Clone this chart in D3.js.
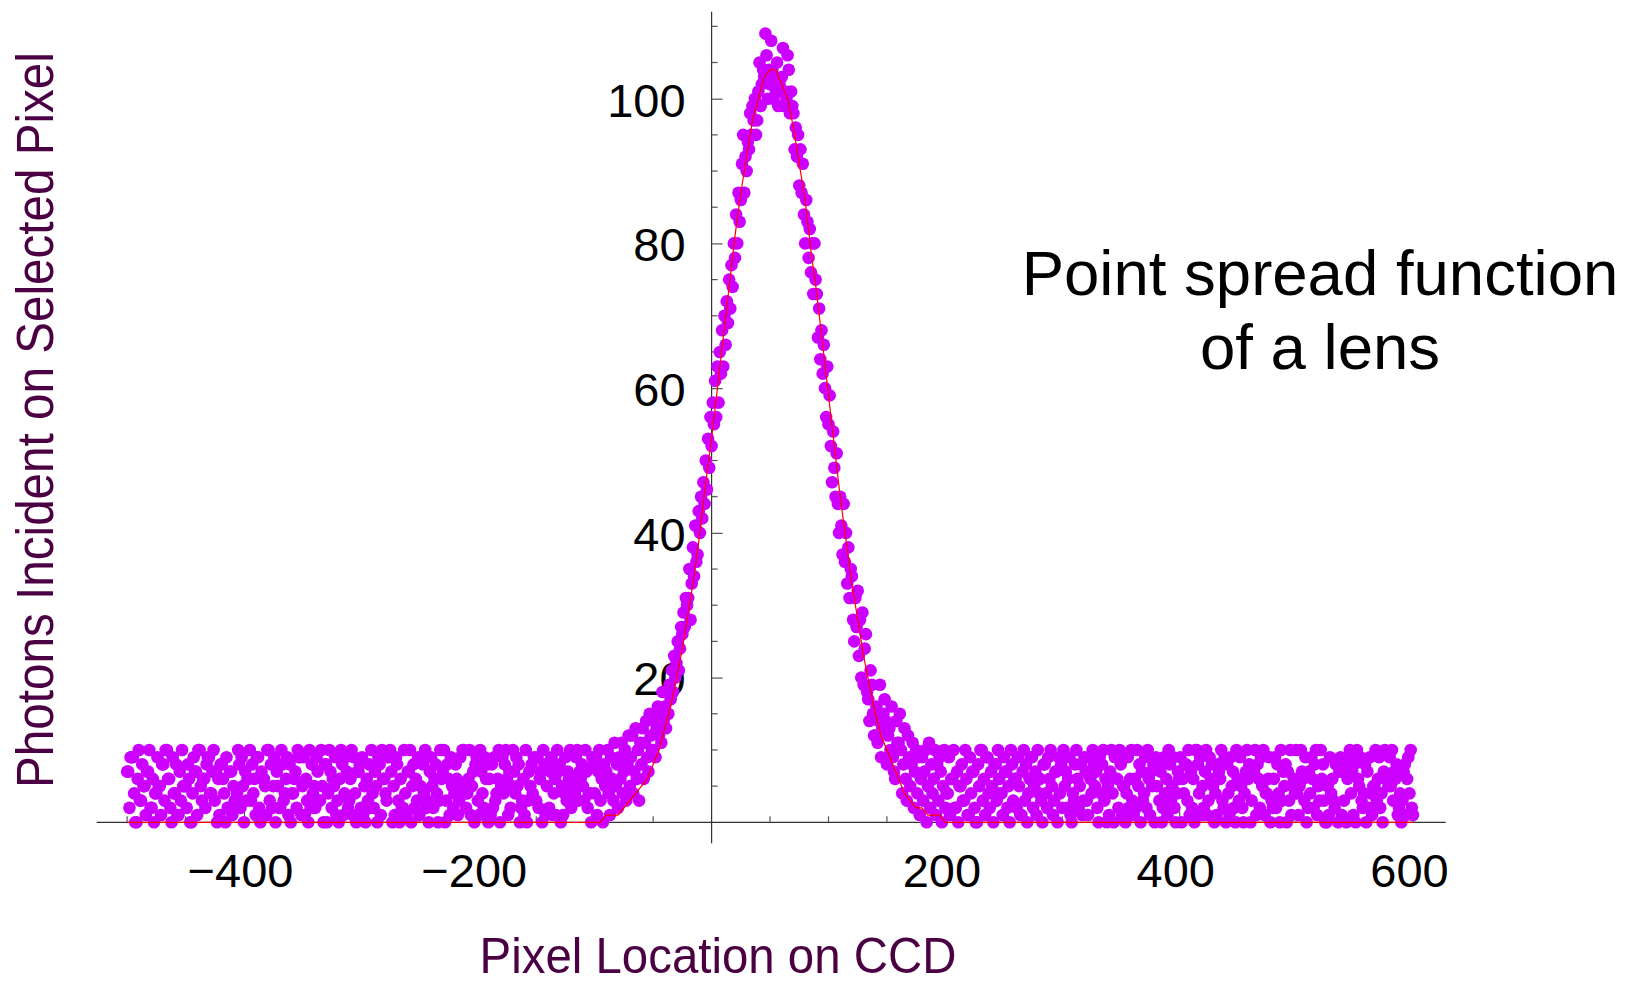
<!DOCTYPE html>
<html>
<head>
<meta charset="utf-8">
<script src="https://cdnjs.cloudflare.com/ajax/libs/d3/7.8.5/d3.min.js"></script>
<style>
  body { margin: 0; background: #fff; }
  text { font-family: "Liberation Sans", Arial, sans-serif; }
</style>
</head>
<body>
<svg id="chart" width="1631" height="985"></svg>
<script>
// photon counts, one per pixel, pixel -500 .. 600
var xStart = -500;

// pixel -500 .. -101
var leftTail = [
  7, 7, 2, 9, 9, 9, 4, 0, 0, 6, 10, 3, 3, 8, 5, 5, 1, 7, 7, 10,
  2, 2, 6, 0, 4, 4, 9, 5, 5, 1, 8, 8, 3, 10, 10, 6, 6, 2, 0, 9,
  4, 4, 8, 1, 1, 7, 3, 10, 5, 5, 5, 2, 8, 6, 0, 0, 4, 9, 7, 7,
  1, 10, 10, 5, 3, 6, 6, 2, 8, 9, 9, 4, 4, 7, 10, 3, 7, 0, 6, 1,
  8, 8, 6, 4, 0, 9, 2, 2, 7, 7, 1, 5, 3, 3, 4, 10, 8, 2, 9, 5,
  0, 7, 3, 6, 6, 10, 3, 8, 4, 6, 1, 9, 9, 2, 0, 7, 6, 6, 5, 1,
  10, 10, 3, 8, 2, 5, 9, 0, 7, 5, 2, 2, 10, 8, 3, 4, 6, 9, 1, 8,
  0, 4, 4, 6, 7, 2, 10, 9, 9, 1, 5, 9, 1, 6, 3, 0, 10, 2, 8, 4,
  5, 2, 9, 7, 3, 3, 10, 5, 0, 8, 8, 0, 4, 10, 7, 2, 6, 5, 9, 1,
  3, 0, 6, 10, 8, 1, 4, 9, 7, 2, 3, 6, 10, 1, 9, 4, 0, 7, 7, 8,
  2, 9, 1, 5, 0, 6, 3, 8, 2, 10, 4, 2, 7, 5, 0, 9, 8, 1, 10, 6,
  6, 4, 3, 9, 9, 10, 7, 0, 5, 1, 9, 8, 3, 0, 6, 2, 2, 10, 4, 1,
  7, 7, 10, 0, 5, 8, 2, 6, 3, 9, 1, 5, 9, 8, 4, 10, 2, 3, 0, 7,
  9, 5, 2, 6, 8, 4, 0, 3, 10, 6, 7, 10, 0, 3, 8, 6, 1, 9, 5, 2,
  4, 8, 6, 1, 3, 9, 5, 10, 10, 4, 2, 4, 6, 10, 1, 5, 7, 0, 8, 9,
  3, 1, 10, 7, 4, 2, 9, 6, 8, 0, 6, 1, 8, 2, 9, 3, 4, 6, 10, 0,
  5, 9, 4, 8, 10, 6, 1, 7, 2, 5, 10, 7, 4, 9, 5, 8, 0, 2, 3, 6,
  1, 10, 0, 3, 7, 5, 8, 4, 9, 3, 3, 9, 2, 6, 7, 0, 10, 8, 1, 5,
  8, 2, 7, 9, 1, 4, 6, 1, 10, 7, 8, 0, 5, 1, 4, 9, 3, 7, 6, 10,
  2, 6, 5, 4, 9, 10, 3, 7, 6, 8, 5, 3, 10, 7, 2, 4, 4, 0, 9, 8
];

// pixel -100 .. 200
var peak = [
  4, 9, 1, 7, 10, 3, 6, 0, 8, 5,
  7, 10, 4, 1, 9, 6, 3, 11, 5, 8,
  2, 9, 6, 11, 4, 7, 10, 3, 8, 12,
  5, 9, 12, 4, 7, 13, 6, 10, 3, 11,
  8, 13, 6, 11, 14, 9, 7, 15, 12, 10,
  10, 14, 9, 13, 16, 12, 15, 11, 18, 14,
  16, 13, 18, 15, 19, 17, 21, 18, 23, 20,
  22, 25, 21, 24, 27, 26, 29, 27, 31, 30,
  31, 35, 28, 33, 38, 34, 41, 36, 37, 43,
  40, 45, 42, 47, 44, 50, 46, 53, 49, 56,
  52, 58, 55, 61, 56, 63, 58, 65, 62, 68,
  63, 70, 66, 72, 69, 75, 71, 77, 74, 80,
  78, 84, 80, 87, 83, 86, 91, 95, 87, 92,
  90, 94, 93, 98, 95, 99, 97, 100, 95, 97,
  101, 105, 99, 102, 104, 103, 109, 106, 100, 104,
  102, 108, 104, 100, 103, 101, 105, 99, 102, 101,
  103, 107, 99, 101, 100, 106, 104, 98, 101, 99,
  98, 93, 96, 92, 95, 88, 93, 87, 91, 84,
  80, 86, 83, 78, 82, 76, 80, 73, 80, 75,
  73, 67, 71, 64, 68, 62, 66, 60, 56, 63,
  55, 59, 52, 47, 54, 49, 45, 51, 44, 40,
  45, 41, 37, 44, 36, 40, 33, 38, 31, 35,
  34, 28, 25, 31, 27, 32, 23, 28, 20, 29,
  19, 24, 26, 18, 17, 14, 21, 19, 15, 12,
  12, 16, 11, 14, 19, 9, 13, 15, 17, 14,
  8, 12, 13, 10, 16, 9, 7, 6, 14, 11,
  11, 15, 10, 4, 8, 13, 6, 3, 12, 9,
  5, 8, 11, 2, 7, 10, 4, 9, 1, 6,
  9, 3, 7, 10, 0, 5, 11, 2, 8, 4,
  6, 10, 1, 8, 3, 9, 7, 0, 5, 10, 2
];

// pixel 201 .. 600
var rightTail = [
  4, 4, 9, 1, 6, 6, 10, 2, 2, 7, 0, 5, 5, 8, 3, 3, 10, 6, 1, 1,
  9, 4, 7, 7, 2, 0, 0, 8, 5, 10, 10, 3, 6, 1, 9, 9, 4, 2, 7, 5,
  0, 8, 8, 3, 10, 6, 4, 4, 1, 9, 7, 7, 2, 5, 0, 10, 8, 3, 6, 6,
  2, 9, 5, 1, 1, 7, 10, 3, 8, 0, 4, 6, 9, 9, 2, 5, 7, 1, 10, 4,
  6, 3, 0, 8, 8, 4, 2, 9, 6, 10, 5, 1, 3, 7, 7, 0, 9, 4, 8, 2,
  10, 5, 7, 2, 6, 9, 1, 0, 4, 3, 8, 10, 6, 2, 5, 8, 1, 3, 9, 7,
  3, 1, 9, 6, 4, 10, 8, 5, 7, 2, 0, 9, 4, 8, 10, 3, 6, 0, 5, 1,
  7, 10, 4, 0, 9, 9, 6, 2, 10, 8, 1, 5, 5, 0, 4, 9, 2, 6, 10, 3,
  1, 6, 2, 10, 5, 8, 0, 7, 3, 4, 9, 2, 10, 6, 1, 7, 5, 8, 0, 9,
  5, 8, 3, 7, 0, 2, 9, 4, 6, 1, 10, 8, 3, 5, 9, 2, 0, 4, 7, 6,
  9, 0, 6, 4, 8, 8, 3, 10, 1, 7, 2, 6, 0, 10, 10, 8, 4, 9, 1, 5,
  2, 7, 10, 1, 3, 9, 6, 8, 5, 0, 4, 1, 8, 7, 6, 10, 3, 2, 9, 0,
  8, 4, 1, 9, 5, 7, 2, 0, 10, 6, 3, 9, 5, 2, 0, 4, 7, 10, 6, 8,
  0, 3, 7, 7, 10, 1, 8, 6, 2, 9, 5, 10, 1, 4, 4, 6, 9, 0, 3, 2,
  6, 9, 2, 8, 4, 0, 10, 3, 7, 5, 8, 0, 7, 3, 10, 1, 5, 6, 4, 10,
  4, 1, 5, 10, 7, 6, 3, 9, 0, 2, 7, 4, 9, 6, 2, 8, 10, 1, 5, 3,
  10, 6, 8, 3, 0, 0, 5, 1, 9, 4, 6, 3, 2, 8, 8, 0, 7, 9, 1, 7,
  3, 8, 0, 6, 9, 10, 4, 7, 1, 8, 0, 10, 6, 5, 9, 3, 2, 4, 8, 0,
  7, 2, 9, 4, 1, 5, 5, 10, 3, 6, 9, 2, 4, 0, 7, 10, 6, 6, 5, 9,
  5, 10, 3, 7, 6, 8, 1, 2, 4, 0, 3, 7, 8, 1, 6, 9, 4, 10, 2, 1
];

// fitted curve (red)
var fitX = [-500, -95, -90, -85, -80, -75, -70, -65, -60, -55, -50, -45, -40, -35, -30, -25,
  -20, -15, -10, -5, 0, 5, 10, 15, 20, 25, 30, 35, 40, 45, 50, 55, 60, 65, 70, 75, 80,
  85, 90, 95, 100, 105, 110, 115, 120, 125, 130, 135, 140, 145, 150, 155, 160, 165,
  170, 175, 180, 185, 190, 195, 200, 600];
var fitY = [0, 0, 1, 1, 1, 2, 3, 4, 5, 6, 8, 10, 13, 16, 20, 24,
  29, 34, 40, 47, 53, 60, 67, 74, 81, 87, 92, 97, 100, 103, 104, 104, 102, 100, 96, 91, 86,
  79, 73, 66, 59, 52, 45, 39, 33, 28, 23, 19, 15, 12, 10, 8, 6, 4,
  3, 2, 2, 1, 1, 1, 0, 0];

var xTickLabels = [-400, -200, 200, 400, 600];
var yTickLabels = [20, 40, 60, 80, 100];

var title = ["Point spread function", "of a lens"];
var xTitle = "Pixel Location on CCD";
var yTitle = "Photons Incident on Selected Pixel";

var counts = leftTail.concat(peak, rightTail);
var points = counts.map(function(c, i){ return {x: xStart + i, y: c}; });

var svg = d3.select("#chart");

var x = d3.scaleLinear().domain([-400, 600]).range([244, 1413]);
var y = d3.scaleLinear().domain([0, 100]).range([822.3, 98.7]);

var axisColor = "#333";

// axis lines
svg.append("line")
  .attr("x1", x(-526)).attr("x2", x(628))
  .attr("y1", y(0)).attr("y2", y(0))
  .attr("stroke", axisColor).attr("stroke-width", 1.2);
svg.append("line")
  .attr("x1", x(0)).attr("x2", x(0))
  .attr("y1", y(112)).attr("y2", y(-2.9))
  .attr("stroke", axisColor).attr("stroke-width", 1.2);

// minor ticks
svg.append("g").selectAll("line")
  .data(d3.range(-500, 601, 50).filter(function(v){ return v != 0 && xTickLabels.indexOf(v) < 0; }))
  .enter().append("line")
  .attr("x1", function(d){ return x(d); }).attr("x2", function(d){ return x(d); })
  .attr("y1", y(0)).attr("y2", y(0) - 6)
  .attr("stroke", "#555").attr("stroke-width", 1.2);
svg.append("g").selectAll("line")
  .data(d3.range(5, 111, 5).filter(function(v){ return yTickLabels.indexOf(v) < 0; }))
  .enter().append("line")
  .attr("x1", x(0)).attr("x2", x(0) + 6)
  .attr("y1", function(d){ return y(d); }).attr("y2", function(d){ return y(d); })
  .attr("stroke", "#555").attr("stroke-width", 1.2);

// major ticks + labels
var gx = svg.append("g")
  .attr("transform", "translate(0," + y(0) + ")")
  .call(d3.axisBottom(x).tickValues(xTickLabels).tickSize(-11).tickSizeOuter(0).tickPadding(31));
gx.select(".domain").remove();
gx.selectAll("line").attr("stroke", "#555").attr("stroke-width", 1.2);
gx.selectAll("text").attr("dx", -4).attr("fill", "#000")
  .style("font-size", "47px").style("font-family", "'Liberation Sans', Arial, sans-serif");

var gy = svg.append("g")
  .attr("transform", "translate(" + x(0) + ",0)")
  .call(d3.axisLeft(y).tickValues(yTickLabels).tickSize(-11).tickSizeOuter(0).tickPadding(26));
gy.select(".domain").remove();
gy.selectAll("line").attr("stroke", "#555").attr("stroke-width", 1.2);
gy.selectAll("text").attr("dy", "0.37em").attr("fill", "#000")
  .style("font-size", "47px").style("font-family", "'Liberation Sans', Arial, sans-serif");

// data points
svg.append("g").selectAll("circle")
  .data(points)
  .enter().append("circle")
  .attr("cx", function(d){ return x(d.x); })
  .attr("cy", function(d){ return y(d.y); })
  .attr("r", 6.3)
  .attr("fill", "#cc00ff");

// fitted curve
var line = d3.line()
  .x(function(d, i){ return x(fitX[i]); })
  .y(function(d){ return y(d); });
svg.append("path")
  .attr("d", line(fitY))
  .attr("fill", "none")
  .attr("stroke", "#ff0000")
  .attr("stroke-width", 1.2);

// axis titles: narrow look of the original, squeezed to the measured width
function squeezed(txt, size, width, cx, cy, rot){
  var g = svg.append("g").attr("transform", "translate(" + cx + "," + cy + ") rotate(" + rot + ")");
  var t = g.append("text")
    .attr("text-anchor", "middle")
    .style("font-size", size + "px").attr("fill", "#4a0042")
    .text(txt);
  var w = t.node().getComputedTextLength();
  t.attr("transform", "scale(" + (width / w) + ",1)");
}
squeezed(xTitle, 50, 477, 718, 973, 0);
squeezed(yTitle, 52, 736, 53, 420, -90);

svg.append("g").selectAll("text")
  .data(title)
  .enter().append("text")
  .attr("x", 1320)
  .attr("y", function(d, i){ return 295 + i * 74; })
  .attr("text-anchor", "middle")
  .style("font-size", "63.5px").attr("fill", "#000")
  .text(function(d){ return d; });
</script>
</body>
</html>
